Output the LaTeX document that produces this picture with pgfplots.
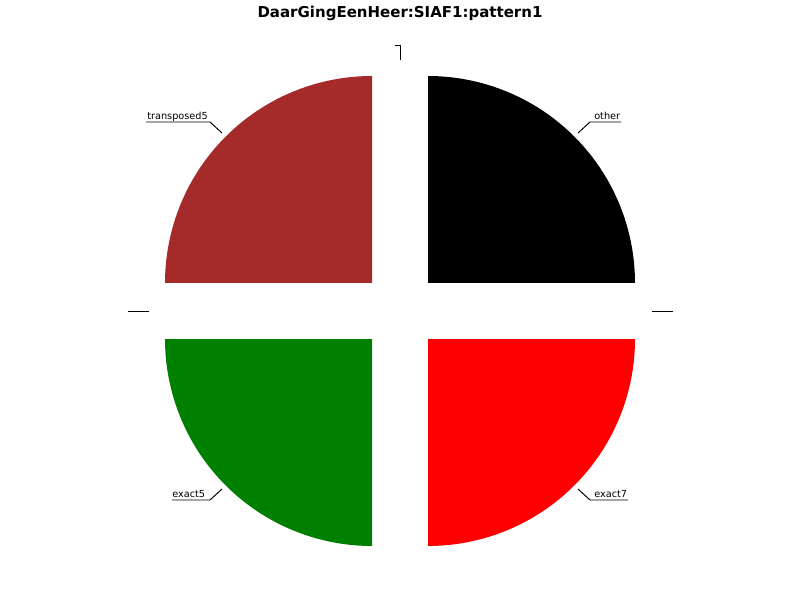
\documentclass[border=0pt]{standalone}
\usepackage{pgfplots}
\pgfplotsset{compat=1.18}
\usepackage{fontspec}
\setmainfont{DejaVu Sans}
\definecolor{mplbrown}{HTML}{A52A2A}
\definecolor{mplgreen}{HTML}{008000}
\definecolor{mplred}{HTML}{FF0000}
\begin{document}
\begin{tikzpicture}
\begin{axis}[hide axis, scale only axis, x=0.72pt, y=0.72pt,
  xmin=0, xmax=800, ymin=0, ymax=600, clip=false]
\path (axis cs:0,0) rectangle (axis cs:800,600);
% pie: four slices of 25 each (exploded)
\addplot[fill=black, draw=none, domain=0:90, samples=80] ({428+207*cos(x)},{317+207*sin(x)}) -- (axis cs:428,317) -- cycle;
\addplot[fill=mplbrown, draw=none, domain=90:180, samples=80] ({372+207*cos(x)},{317+207*sin(x)}) -- (axis cs:372,317) -- cycle;
\addplot[fill=mplgreen, draw=none, domain=180:270, samples=80] ({372+207*cos(x)},{261+207*sin(x)}) -- (axis cs:372,261) -- cycle;
\addplot[fill=mplred, draw=none, domain=270:360, samples=80] ({428+207*cos(x)},{261+207*sin(x)}) -- (axis cs:428,261) -- cycle;
% leader lines
\draw[line width=0.7pt] (axis cs:578,467) -- (axis cs:590,478) -- (axis cs:621,478);
\draw[line width=0.7pt] (axis cs:222,467) -- (axis cs:210,478) -- (axis cs:146,478);
\draw[line width=0.7pt] (axis cs:222,111) -- (axis cs:210,100) -- (axis cs:172,100);
\draw[line width=0.7pt] (axis cs:578,111) -- (axis cs:590,100) -- (axis cs:628,100);
\draw[line width=0.7pt] (axis cs:400,540) -- (axis cs:400,555) -- (axis cs:395,555);
\draw[line width=0.7pt] (axis cs:128,289) -- (axis cs:149,289);
\draw[line width=0.7pt] (axis cs:652,289) -- (axis cs:673,289);
% labels
\node[anchor=base west, inner sep=0pt, font=\fontsize{7}{8}\selectfont] at (axis cs:594,480.5) {other};
\node[anchor=base west, inner sep=0pt, font=\fontsize{7}{8}\selectfont] at (axis cs:147,480.5) {transposed5};
\node[anchor=base west, inner sep=0pt, font=\fontsize{7}{8}\selectfont] at (axis cs:172,102.5) {exact5};
\node[anchor=base west, inner sep=0pt, font=\fontsize{7}{8}\selectfont] at (axis cs:594,102.5) {exact7};
% title
\node[font=\bfseries\fontsize{10.8}{13}\selectfont] at (axis cs:400,587) {DaarGingEenHeer:SIAF1:pattern1};
\end{axis}
\end{tikzpicture}
\end{document}
